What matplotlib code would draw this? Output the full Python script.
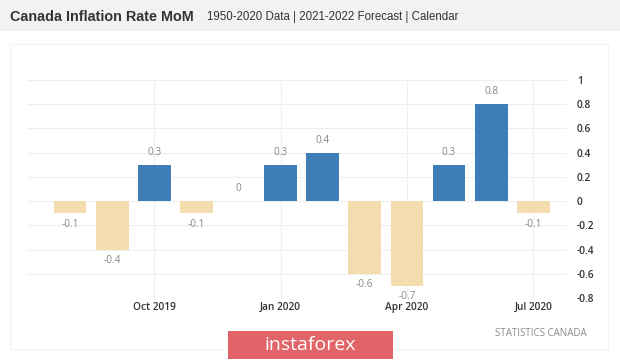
import matplotlib
matplotlib.use("Agg")
import matplotlib.pyplot as plt
from matplotlib.patches import Rectangle

# monthly change, Aug 2019 .. Jul 2020
months = ["Aug 2019", "Sep 2019", "Oct 2019", "Nov 2019", "Dec 2019", "Jan 2020",
          "Feb 2020", "Mar 2020", "Apr 2020", "May 2020", "Jun 2020", "Jul 2020"]
values = [-0.1, -0.4, 0.3, -0.1, 0.0, 0.3, 0.4, -0.6, -0.7, 0.3, 0.8, -0.1]
tick_idx = [2, 5, 8, 11]
tick_labels = ["Oct 2019", "Jan 2020", "Apr 2020", "Jul 2020"]
y_ticks = [1, 0.8, 0.6, 0.4, 0.2, 0, -0.2, -0.4, -0.6, -0.8]

BLUE = "#3f7db8"
BEIGE = "#f3dcae"

W, H = 620, 360
fig = plt.figure(figsize=(W / 100, H / 100), dpi=100)
fig.patch.set_facecolor("white")

# gray header strip
fig.add_artist(Rectangle((0, 1 - 31 / H), 1, 31 / H, transform=fig.transFigure,
                         facecolor="#f2f2f2", edgecolor="none", zorder=0))
# faint chart panel border
fig.add_artist(Rectangle((10 / W, 1 - 349 / H), 598 / W, 305 / H,
                         transform=fig.transFigure, facecolor="none",
                         edgecolor="#f3f3f3", linewidth=0.8, zorder=0))

fig.text(10 / W, 1 - 17 / H, "Canada Inflation Rate MoM", fontsize=10.4,
         fontweight="bold", color="#333333", family="Liberation Sans", va="center")
fig.text(207 / W, 1 - 17 / H, "1950-2020 Data | 2021-2022 Forecast | Calendar",
         fontsize=8.3, color="#333333", family="Liberation Sans", va="center")

ax = fig.add_axes([27 / W, 1 - 298 / H, 540 / W, 218 / H])
ax.set_facecolor("none")
x = list(range(len(values)))
colors = [BLUE if v > 0 else BEIGE for v in values]
ax.bar(x, values, width=0.78, color=colors, zorder=2)

for xi, v in zip(x, values):
    txt = "0" if v == 0 else f"{v:g}"
    if v >= 0:
        ax.annotate(txt, (xi, v), xytext=(0, 5), textcoords="offset points",
                    ha="center", va="bottom", fontsize=7.3, color="#888888",
                    family="Open Sans", annotation_clip=False)
    else:
        ax.annotate(txt, (xi, v), xytext=(0, -4), textcoords="offset points",
                    ha="center", va="top", fontsize=7.3, color="#888888",
                    family="Open Sans", annotation_clip=False)

ax.set_xlim(-1.02, 11.8)
ax.set_ylim(-0.8, 1.0)
ax.set_yticks(y_ticks)
ax.set_yticklabels([f"{t:g}" for t in y_ticks])
ax.yaxis.tick_right()
ax.set_xticks(tick_idx)
ax.set_xticklabels(tick_labels)
ax.tick_params(length=0, labelsize=7.3, colors="#333333")
ax.tick_params(axis="x", pad=3)
ax.tick_params(axis="y", pad=7)
for lab in ax.get_xticklabels() + ax.get_yticklabels():
    lab.set_family("Open Sans")
    lab.set_fontweight("semibold")
ax.grid(True, color="#efefef", linewidth=0.8, zorder=0)
for s in ax.spines.values():
    s.set_visible(False)

fig.text(587 / W, 1 - 333 / H, "STATISTICS CANADA", fontsize=7, color="#8a8a8a",
         family="Open Sans", ha="right", va="center")

fig.add_artist(Rectangle((228 / W, 1 - 359 / H), 165 / W, 28 / H,
                         transform=fig.transFigure, facecolor="#e06468",
                         edgecolor="none", zorder=3))
fig.text(310 / W, 1 - 345 / H, "instaforex", fontsize=14, color="white",
         family="Open Sans", ha="center", va="center", zorder=4)

fig.savefig("out.png", dpi=100)
